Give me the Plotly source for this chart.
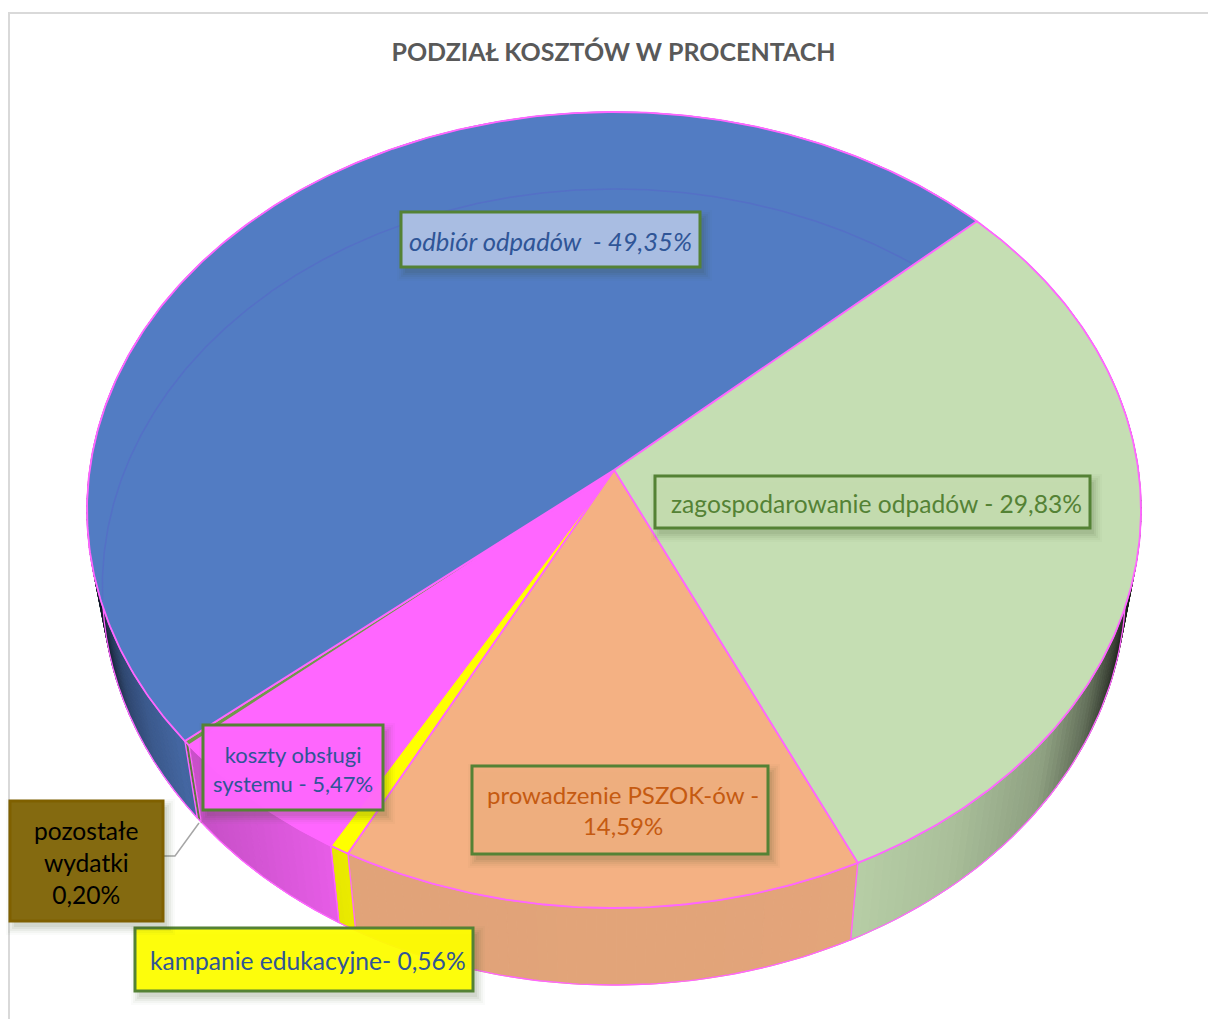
import numpy as np
import plotly.graph_objects as go

# ---- data ----
categories = ["zagospodarowanie odpadów", "prowadzenie PSZOK-ów", "kampanie edukacyjne",
              "koszty obsługi systemu", "pozostałe wydatki", "odbiór odpadów"]
values = [29.83, 14.59, 0.56, 5.47, 0.20, 49.35]
label_texts = ["zagospodarowanie odpadów - 29,83%", "prowadzenie PSZOK-ów -<br>14,59%",
               "kampanie edukacyjne- 0,56%", "koszty obsługi<br>systemu - 5,47%",
               "pozostałe<br>wydatki<br>0,20%", "odbiór odpadów  - 49,35%"]
title_text = "PODZIAŁ KOSZTÓW W PROCENTACH"

# ---- styles ----
slice_colors = ["#C5DEB3", "#F4B183", "#FFFF00", "#FF66FF", "#6F9A4A", "#527CC3"]
text_colors = ["#548235", "#C55A11", "#2F5597", "#2F5597", "#000000", "#2F5597"]
box_fills = ["rgba(197,220,176,0.95)", "rgba(240,175,128,0.95)", "rgba(255,255,0,0.94)",
             "rgba(255,102,255,0.96)", "#846A10", "#A9BDE2"]
box_lines = ["#548235", "#548235", "#548235", "#548235", "#7F6000", "#548235"]
boxes = [(655, 476, 1090, 528), (472, 766, 768, 854), (135, 928, 473, 991),
         (203, 725, 383, 810), (10, 801, 163, 921), (401, 212, 700, 267)]
text_sizes = [24.6, 24, 24.6, 22, 24.6, 25.6]
text_centres = [(876, 503), (623, 810), (307.5, 960), (292.5, 769), (86, 862), (550.5, 241)]
OUTLINE = "#FF66FF"
FONT = "Lato"
FIRST_ANGLE = 47.62

# ---- projection of the tilted disc ----
CX, CY, BX, BY, K = 614.0, 470.0, 524.3, 394.0, -0.1005
DEPTH, SHRINK = 77.0, 0.971


def top(theta):
    t = np.radians(theta)
    u, v = np.sin(t), -np.cos(t)
    d = 1 + K * v
    return CX + BX * u / d, CY + BY * v / d


def bottom(theta):
    x, y = top(theta)
    return CX + SHRINK * (x - CX), y + DEPTH


def shade(x):
    return np.interp(x, [98, 110, 125, 150, 185, 200, 330, 350, 850, 950, 1040, 1085, 1110, 1128],
                     [.2, .38, .58, .72, .83, .78, .9, .92, .93, .86, .72, .5, .28, .1])


def rgb(hexc):
    return np.array([int(hexc[i:i + 2], 16) for i in (1, 3, 5)], float)


fig = go.Figure()
edges = FIRST_ANGLE + np.concatenate([[0], np.cumsum(values)]) * 3.6

# side wall
for i, col in enumerate(slice_colors):
    a0, a1 = edges[i], edges[i + 1]
    n = max(2, int((a1 - a0) / 1.0) + 1)
    ths = np.linspace(a0, a1, n + 1)
    for j in range(n):
        tt = np.linspace(ths[j], ths[j + 1], 3)
        xt, yt = top(tt)
        xb, yb = bottom(tt[::-1])
        f = shade((xt.mean() + xb.mean()) / 2)
        c = rgb(col) * f
        cs = f"rgb({c[0]:.0f},{c[1]:.0f},{c[2]:.0f})"
        fig.add_trace(go.Scatter(x=np.r_[xt, xb, xt[0]], y=np.r_[yt, yb, yt[0]], mode="lines",
                                 fill="toself", fillcolor=cs, line=dict(color=cs, width=1),
                                 hoverinfo="skip", showlegend=False))
    tt = np.linspace(a0, a1, 80)
    xt, yt = top(tt)
    xb, yb = bottom(tt[::-1])
    fig.add_trace(go.Scatter(x=np.r_[xt, xb, xt[0]], y=np.r_[yt, yb, yt[0]], mode="lines",
                             line=dict(color=OUTLINE, width=1.3), hoverinfo="skip", showlegend=False))

# top face
for i, (name, col) in enumerate(zip(categories, slice_colors)):
    tt = np.linspace(edges[i], edges[i + 1], max(4, int(edges[i + 1] - edges[i]) * 2))
    xt, yt = top(tt)
    fig.add_trace(go.Scatter(x=np.r_[CX, xt, CX], y=np.r_[CY, yt, CY], mode="lines", fill="toself",
                             fillcolor=col, line=dict(color=OUTLINE, width=1.8),
                             name=name, text=f"{name}: {values[i]}%", hoverinfo="text",
                             showlegend=False))

# faint far edge of the lower disc, seen through the large slice
tt = np.linspace(edges[5], edges[6], 500)
xa, ya = bottom(tt)
xu, yu = (xa - CX) / BX, (ya - CY) / BY
v_in = yu / (1 - K * yu)
u_in = xu * (1 + K * v_in)
ang = np.degrees(np.arctan2(u_in, -v_in)) % 360
inside = (u_in ** 2 + v_in ** 2 < 0.995) & ((ang > edges[5] % 360) | (ang < edges[6] % 360))
fig.add_trace(go.Scatter(x=xa[inside], y=ya[inside], mode="lines",
                         line=dict(color="#5470C6", width=1.5), hoverinfo="skip", showlegend=False))

# leader line for the smallest slice
fig.add_trace(go.Scatter(x=[163, 175, 199], y=[856, 856, 823], mode="lines",
                         line=dict(color="#A6A6A6", width=1.5), hoverinfo="skip", showlegend=False))

shapes = [dict(type="rect", xref="paper", yref="paper", x0=9 / 1208, y0=1 - 13 / 1019, x1=1.01, y1=-0.01,
               line=dict(color="#D9D9D9", width=2), layer="below")]
for (x0, y0, x1, y1), fill, ln in zip(boxes, box_fills, box_lines):
    for grow, op in ((8, .025), (6, .035), (4, .05), (2, .06), (0, .07)):
        shapes.append(dict(type="rect", x0=x0 + 4 - grow, y0=y0 + 6 - grow, x1=x1 + 4 + grow, y1=y1 + 6 + grow,
                           fillcolor="#3A4A20", opacity=op, line=dict(width=0)))
    shapes.append(dict(type="rect", x0=x0, y0=y0, x1=x1, y1=y1, fillcolor=fill, line=dict(color=ln, width=3)))

annotations = []
for (cx, cy), txt, c, size, i in zip(text_centres, label_texts, text_colors, text_sizes, range(6)):
    annotations.append(dict(x=cx, y=cy, text=txt, showarrow=False,
                            font=dict(family=FONT, size=size, color=c,
                                      style="italic" if i == 5 else "normal"),
                            align="center", xanchor="center", yanchor="middle"))

fig.update_layout(
    width=1208, height=1019, autosize=False, margin=dict(l=0, r=0, t=0, b=0),
    paper_bgcolor="white", plot_bgcolor="white",
    title=dict(text=f"<b>{title_text}</b>", x=613.5 / 1208, y=1 - 52 / 1019, xanchor="center", yanchor="middle",
               font=dict(family=FONT, size=25, color="#595959")),
    xaxis=dict(range=[0, 1208], visible=False, fixedrange=True),
    yaxis=dict(range=[1019, 0], visible=False, fixedrange=True),
    shapes=shapes, annotations=annotations, showlegend=False,
)
fig.write_html("out.html", config=dict(displayModeBar=False),
               post_script="document.body.style.margin='0';document.body.style.overflow='hidden';")
